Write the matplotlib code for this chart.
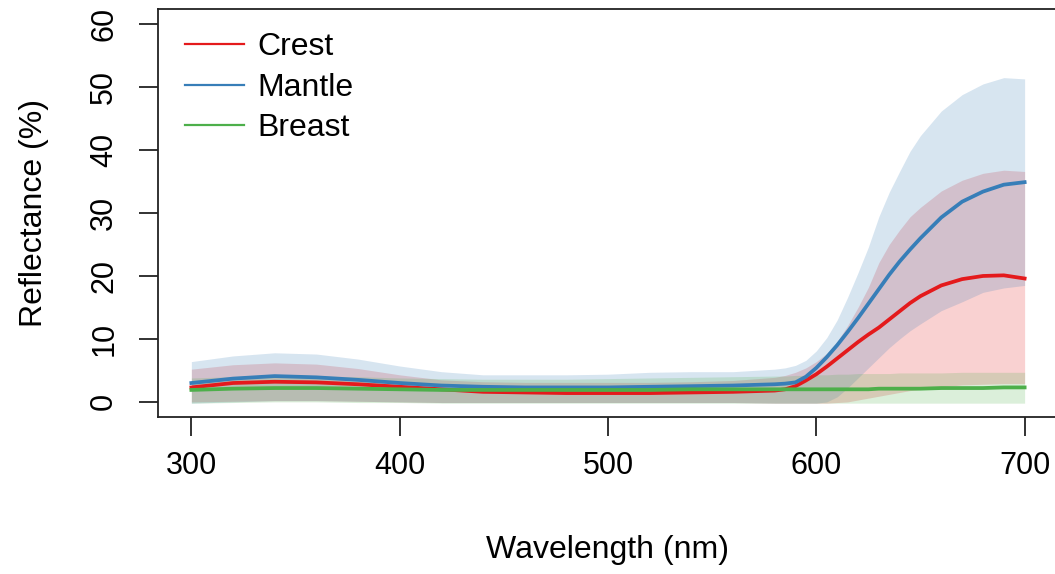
import matplotlib
matplotlib.use("Agg")
import matplotlib.pyplot as plt
import numpy as np

plt.rcParams['font.family'] = ['Liberation Sans', 'DejaVu Sans']

# wavelengths (nm) at which the spectra were sampled; denser through the red rise
wavelength = [300, 320, 340, 360, 380, 400, 420, 440, 460, 480, 500, 520, 540, 560,
              580, 585, 590, 595, 600, 605, 610, 615, 620, 625, 630, 635, 640, 645, 650,
              660, 670, 680, 690, 700]

# mean reflectance (%) and lower / upper bounds per body region
crest_mean = [2.3, 3.0, 3.2, 3.1, 2.8, 2.4, 2.0, 1.6, 1.5, 1.4, 1.4, 1.4, 1.5, 1.6,
              1.8, 2.0, 2.5, 3.4, 4.4, 5.6, 6.9, 8.2, 9.5, 10.7, 11.8, 13.1, 14.4, 15.7, 16.8,
              18.5, 19.5, 20.0, 20.1, 19.6]
crest_lo = [0.0, 0.1, 0.2, 0.2, 0.1, 0.0, -0.1, -0.1, -0.1, -0.1, -0.1, -0.1, -0.1, -0.1,
            -0.2, -0.2, -0.2, -0.2, -0.2, -0.2, -0.1, 0.0, 0.3, 0.6, 0.9, 1.2, 1.5, 1.8, 2.0,
            2.4, 2.7, 2.8, 2.9, 2.9]
crest_hi = [5.2, 5.9, 6.2, 6.0, 5.3, 4.3, 3.5, 3.2, 3.1, 3.1, 3.1, 3.1, 3.2, 3.4,
            3.9, 4.2, 4.7, 5.4, 6.4, 7.7, 9.6, 12.1, 15.0, 18.2, 22.1, 25.0, 27.3, 29.4, 30.9,
            33.5, 35.2, 36.3, 36.8, 36.6]

mantle_mean = [3.0, 3.7, 4.1, 3.9, 3.5, 3.0, 2.6, 2.4, 2.3, 2.3, 2.3, 2.4, 2.5, 2.6,
               2.8, 2.9, 3.1, 4.0, 5.4, 7.1, 9.0, 11.1, 13.3, 15.6, 17.9, 20.2, 22.3, 24.2, 26.0,
               29.3, 31.8, 33.4, 34.5, 34.9]
mantle_lo = [-0.2, 0.0, 0.2, 0.2, 0.1, 0.0, -0.1, -0.1, -0.1, -0.1, -0.1, -0.1, -0.1, -0.1,
             -0.2, -0.2, -0.2, -0.2, -0.2, 0.0, 0.8, 2.2, 3.8, 5.4, 7.0, 8.6, 10.0, 11.3, 12.4,
             14.5, 15.9, 17.4, 18.1, 18.5]
mantle_hi = [6.4, 7.3, 7.8, 7.6, 6.8, 5.7, 4.8, 4.3, 4.3, 4.3, 4.4, 4.7, 4.8, 4.8,
             5.2, 5.4, 5.8, 6.6, 8.1, 10.2, 13.0, 16.6, 20.5, 24.6, 29.4, 33.3, 36.6, 39.8, 42.3,
             46.2, 48.8, 50.5, 51.5, 51.3]

breast_mean = [1.9, 2.1, 2.2, 2.2, 2.1, 2.0, 1.9, 1.9, 1.9, 1.9, 1.9, 1.9, 2.0, 2.0,
               2.0, 2.0, 2.0, 2.0, 2.0, 2.0, 2.0, 2.0, 2.0, 2.0, 2.1, 2.1, 2.1, 2.1, 2.1,
               2.2, 2.2, 2.2, 2.3, 2.3]
breast_lo = [-0.2, -0.1, 0.0, 0.0, -0.1, -0.1, -0.2, -0.2, -0.2, -0.2, -0.2, -0.2, -0.2, -0.2,
             -0.2, -0.2, -0.2, -0.2, -0.2, -0.2, -0.2, -0.2, -0.2, -0.2, -0.2, -0.2, -0.2, -0.2, -0.2,
             -0.2, -0.2, -0.2, -0.2, -0.2]
breast_hi = [3.8, 4.0, 4.1, 4.1, 4.0, 3.8, 3.7, 3.6, 3.6, 3.6, 3.7, 3.8, 3.9, 4.0,
             4.1, 4.1, 4.2, 4.2, 4.3, 4.3, 4.4, 4.4, 4.5, 4.5, 4.5, 4.5, 4.6, 4.6, 4.6,
             4.6, 4.7, 4.7, 4.7, 4.7]

regions = ['Crest', 'Mantle', 'Breast']
colors = ['#E41A1C', '#377EB8', '#4DAF4A']

fig = plt.figure(figsize=(10.55, 5.74), dpi=100)
ax = fig.add_axes([0.1498, 0.2735, 0.853, 0.7108])

wl = np.array(wavelength)
bands = [(crest_lo, crest_hi), (mantle_lo, mantle_hi), (breast_lo, breast_hi)]
means = [crest_mean, mantle_mean, breast_mean]

# shaded spread first, mean curves on top
for (lo, hi), col in zip(bands, colors):
    ax.fill_between(wl, lo, hi, color=col, alpha=0.2, linewidth=0)

for m, col, name in zip(means, colors, regions):
    ax.plot(wl, m, color=col, lw=2.7, label=name, solid_joinstyle='round')

ax.set_xlim(284, 716)
ax.set_ylim(-2.4, 62.4)
ax.set_xticks([300, 400, 500, 600, 700])
ax.set_yticks([0, 10, 20, 30, 40, 50, 60])
ax.tick_params(axis='both', labelsize=22, length=14, width=1.3, color='#222222')
ax.tick_params(axis='x', pad=10.5)
ax.tick_params(axis='y', pad=14)
for lab in ax.get_yticklabels():
    lab.set_rotation(90)
    lab.set_va('center')
for sp in ax.spines.values():
    sp.set_linewidth(1.3)
    sp.set_color('#222222')

ax.set_xlabel('Wavelength (nm)', fontsize=23, labelpad=39)
ax.set_ylabel('Reflectance (%)', fontsize=23, labelpad=29)

leg = ax.legend(loc='upper left', bbox_to_anchor=(0.030, 0.943), frameon=False,
                fontsize=23, handlelength=1.85, handletextpad=0.42, labelspacing=0.33,
                borderaxespad=0, borderpad=0)
for line in leg.get_lines():
    line.set_linewidth(1.6)

fig.savefig('out.png', dpi=100)
